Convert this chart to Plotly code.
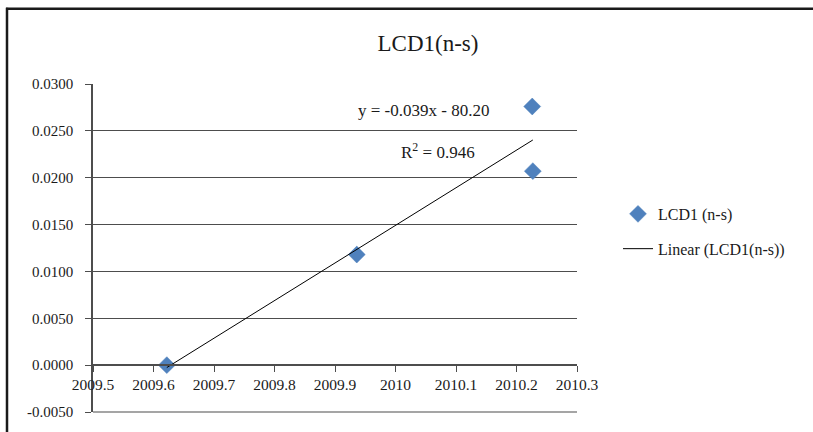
import numpy as np
import plotly.graph_objects as go

# ---- data ----
x_vals = [2009.622, 2009.936, 2010.226, 2010.227]
y_vals = [0.0, 0.0118, 0.0276, 0.0207]
series_name = "LCD1 (n-s)"
trend_name = "Linear (LCD1(n-s))"
chart_title = "LCD1(n-s)"
eq_text = "y = -0.039x - 80.20"
r2_text = "R<sup>2</sup> = 0.946"
x_ticks = [2009.5, 2009.6, 2009.7, 2009.8, 2009.9, 2010.0, 2010.1, 2010.2, 2010.3]
x_tick_labels = ["2009.5", "2009.6", "2009.7", "2009.8", "2009.9", "2010", "2010.1", "2010.2", "2010.3"]
y_ticks = [-0.005, 0.0, 0.005, 0.010, 0.015, 0.020, 0.025, 0.030]
y_tick_labels = ["-0.0050", "0.0000", "0.0050", "0.0100", "0.0150", "0.0200", "0.0250", "0.0300"]

# ---- layout geometry (pixels) ----
W, H = 813, 432
L, R, T, B = 93, 577, 84, 415
PW, PH = R - L, B - T

def px(xp):
    return (xp - L) / PW

def py(yp):
    return (B - yp) / PH

FONT = "Liberation Serif"
TXT = "#1a1a1a"
AX = "#4d4d4d"

coef = np.polyfit(x_vals, y_vals, 1)
tx = np.array([min(x_vals), max(x_vals)])
ty = np.polyval(coef, tx)

fig = go.Figure()
fig.add_trace(go.Scatter(
    x=x_vals, y=y_vals, mode="markers", name=series_name,
    marker=dict(symbol="diamond", size=13, color="#4F81BD",
                line=dict(width=0.5, color="#4A7EBB")),
    legendgroup="a", cliponaxis=False,
))
fig.add_trace(go.Scatter(
    x=tx, y=ty, mode="lines", name=trend_name,
    line=dict(color="#000000", width=1),
    legendgroup="b",
))

fig.update_layout(
    width=W, height=H,
    margin=dict(l=L, r=W - R, t=T, b=H - B, pad=0),
    paper_bgcolor="white", plot_bgcolor="white",
    font=dict(family=FONT, size=15.5, color=TXT),
    title=dict(text=chart_title, x=428 / W, xref="container", xanchor="center",
               y=1 - 43 / H, yref="container", yanchor="middle",
               font=dict(family=FONT, size=23, color=TXT)),
    showlegend=True,
    legend=dict(x=px(618), y=py(198), xanchor="left", yanchor="top",
                font=dict(family=FONT, size=16, color=TXT),
                tracegroupgap=11, bgcolor="rgba(0,0,0,0)", borderwidth=0),
    xaxis=dict(range=[2009.5, 2010.3], tickvals=x_ticks, ticktext=x_tick_labels,
               showgrid=False, zeroline=False, showline=True,
               linecolor=AX, linewidth=1.5,
               ticks="outside", ticklen=6, tickcolor=AX, tickwidth=1.3,
               anchor="free", position=(0 + 0.005) / 0.035,
               tickfont=dict(family=FONT, size=15.5, color=TXT)),
    yaxis=dict(range=[-0.005, 0.030], tickvals=y_ticks, ticktext=y_tick_labels,
               showgrid=True, gridcolor=AX, gridwidth=1.2,
               zeroline=False, showline=True, linecolor=AX, linewidth=1.5,
               ticks="outside", ticklen=6, tickcolor=AX, tickwidth=1.3,
               ticklabelstandoff=9,
               tickfont=dict(family=FONT, size=15, color=TXT)),
    annotations=[
        dict(text=eq_text, xref="paper", yref="paper", x=px(423), y=py(111),
             xanchor="center", yanchor="middle", showarrow=False,
             font=dict(family=FONT, size=17, color=TXT)),
        dict(text=r2_text, xref="paper", yref="paper", x=px(438), y=py(152),
             xanchor="center", yanchor="middle", showarrow=False,
             font=dict(family=FONT, size=17, color=TXT)),
    ],
    shapes=[
        dict(type="line", xref="paper", yref="paper", x0=px(7), x1=px(7),
             y0=py(7), y1=py(440), line=dict(color="#1a1a1a", width=2.5)),
        dict(type="line", xref="paper", yref="paper", x0=px(6), x1=px(820),
             y0=py(8), y1=py(8), line=dict(color="#1a1a1a", width=2.5)),
        dict(type="line", xref="paper", yref="paper", x0=0, x1=1,
             y0=0, y1=0, line=dict(color=AX, width=1.2)),
    ],
)

fig.write_html("out.html",
               config={"displayModeBar": False},
               post_script="document.body.style.margin='0';document.body.style.overflow='hidden';")
